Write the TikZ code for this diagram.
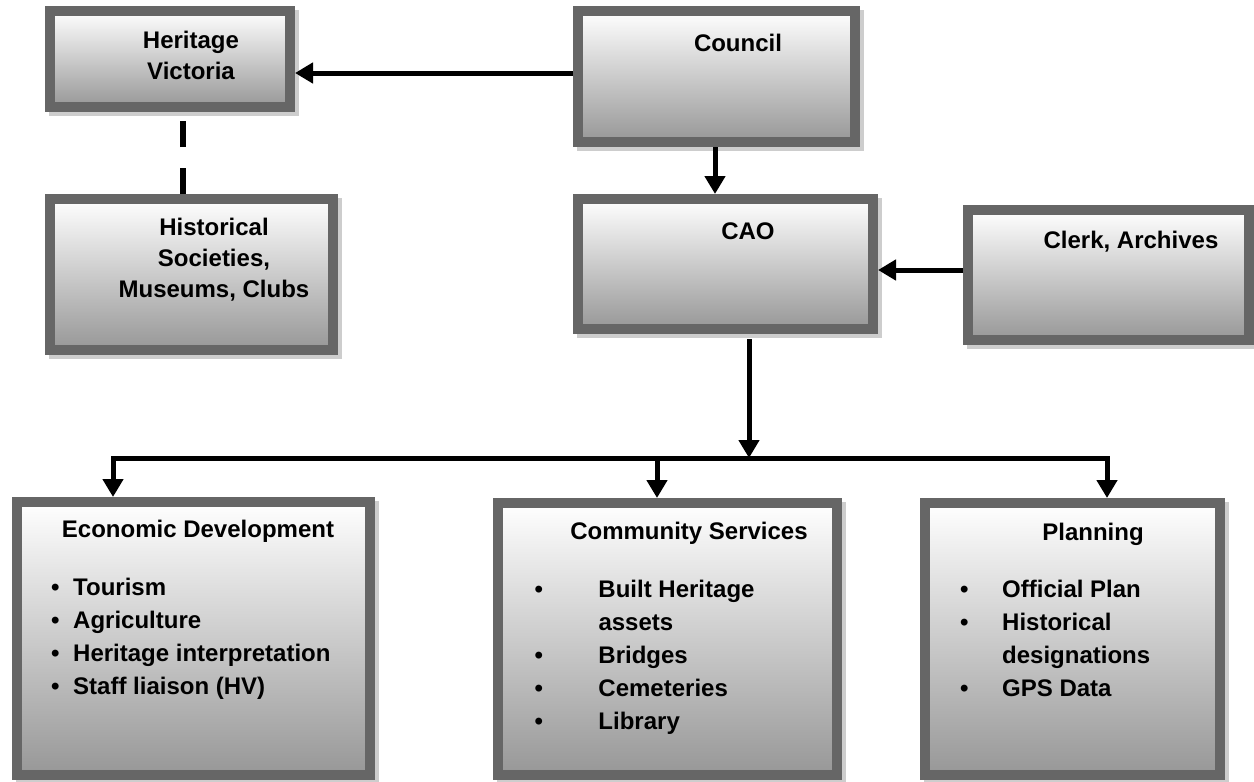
\documentclass[tikz,border=0pt]{standalone}
\usepackage{fontspec}
\setmainfont{Liberation Sans}
\usetikzlibrary{arrows.meta}
\definecolor{bord}{HTML}{666666}
\definecolor{shb}{HTML}{979797}
\definecolor{shadowc}{HTML}{CDCDCD}
\newcommand\blt[1]{\makebox[#1][l]{•}}
\begin{document}
\begin{tikzpicture}[x=1pt,y=-1pt,
  box/.style={rectangle, draw=bord, line width=10pt, top color=white, bottom color=shb,
    inner sep=0pt, outer sep=5pt,
    preaction={draw=shadowc, fill=shadowc, line width=10pt, transform canvas={shift={(4pt,-4pt)}}}},
  title/.style={font=\fontsize{24}{31}\selectfont\bfseries, align=center, inner sep=0pt, text=black},
  list/.style={font=\fontsize{24}{33}\selectfont\bfseries, align=left, inner sep=0pt, anchor=north west, text=black},
  arr/.style={line width=5pt, -{Triangle[width=20pt,length=18pt]}},
  dashline/.style={line width=6pt, dash pattern=on 26pt off 21pt}
]
\useasboundingbox[fill=white] (0,0) rectangle (1254,782);

% boxes
\node[box, minimum width=240pt, minimum height=96pt]  (hv)      at (170,59) {};
\node[box, minimum width=277pt, minimum height=131pt] (council) at (716.5,76.5) {};
\node[box, minimum width=283pt, minimum height=151pt] (hist)    at (191.5,274.5) {};
\node[box, minimum width=295pt, minimum height=130pt] (cao)     at (725.5,264) {};
\node[box, minimum width=281pt, minimum height=130pt] (clerk)   at (1108.5,275) {};
\node[box, minimum width=353pt, minimum height=273pt] (econ)    at (193.5,638.5) {};
\node[box, minimum width=339pt, minimum height=272pt] (comm)    at (667.5,639) {};
\node[box, minimum width=295pt, minimum height=272pt] (plan)    at (1072.5,639) {};

% titles
\node[title, anchor=north] (hvt)      at (191,26.6)   {\strut Heritage\\Victoria};
\node[title, anchor=base]  (councilt) at (738,51.7)   {Council};
\node[title, anchor=base]  (caot)     at (748,239.3)  {CAO};
\node[title, anchor=base]  (clerkt)   at (1131,248.3) {Clerk, Archives};
\node[title, anchor=north] (histt)    at (214,213.3)  {\strut Historical\\Societies,\\Museums, Clubs};
\node[title, anchor=base]  (econt)    at (198,537.7)  {Economic Development};
\node[title, anchor=base]  (commt)    at (689,539)    {Community Services};
\node[title, anchor=base]  (plant)    at (1093,540)   {Planning};

% lists
\node[list] (econl) at (51,571.9) {\strut\blt{22pt}Tourism\\
  \blt{22pt}Agriculture\\
  \blt{22pt}Heritage interpretation\\
  \blt{22pt}Staff liaison (HV)};
\node[list] (comml) at (534.3,573.9) {\strut\blt{64pt}Built Heritage\\
  \hspace*{64pt}assets\\
  \blt{64pt}Bridges\\
  \blt{64pt}Cemeteries\\
  \blt{64pt}Library};
\node[list] (planl) at (960,573.9) {\strut\blt{42pt}Official Plan\\
  \blt{42pt}Historical\\
  \hspace*{42pt}designations\\
  \blt{42pt}GPS Data};

% connectors
\coordinate (hy) at (0,73);
\coordinate (cx) at (715,0);
\coordinate (cy) at (0,270);
\coordinate (j)  at (749,458);
\coordinate (bl) at (113,458);
\coordinate (bm) at (657,458);
\coordinate (br) at (1107,458);
\coordinate (dx) at (183,0);

\draw[arr] (council.west |- hy) -- (hv.east |- hy);
\draw[arr] (council.south -| cx) -- (cao.north -| cx);
\draw[arr] (clerk.west |- cy) -- (cao.east |- cy);
\draw[arr, shorten <=5pt] (cao.south -| j) -- (j);
\draw[arr] (j) -| (econ.north -| bl);
\draw[arr] (j) -| (plan.north -| br);
\draw[arr] (bm) -- (comm.north -| bm);
\draw[dashline] (hist.north -| dx) -- (hv.south -| dx);
\end{tikzpicture}
\end{document}
